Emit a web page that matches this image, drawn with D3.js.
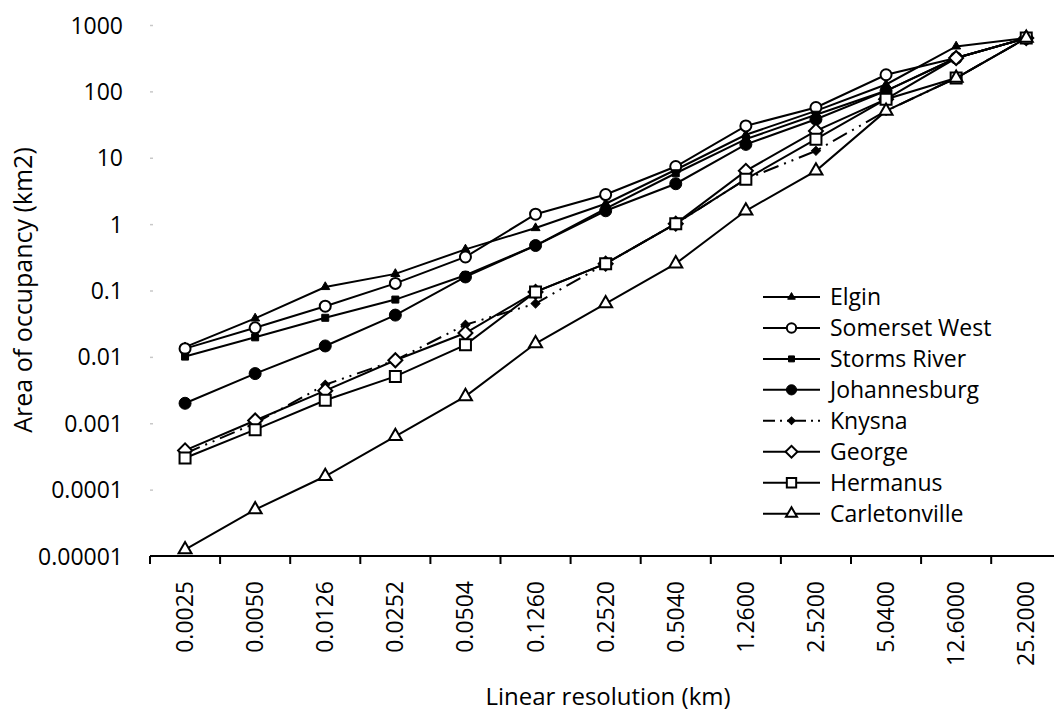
<!DOCTYPE html>
<html>
<head>
<meta charset="utf-8">
<script src="https://cdn.jsdelivr.net/npm/d3@7"></script>
<style>
  html, body { margin: 0; padding: 0; background: #fff; }
  svg { display: block; }
  text { font-family: "Open Sans", "DejaVu Sans", sans-serif; fill: #000; }
</style>
</head>
<body>
<svg id="chart" width="1054" height="727"></svg>
<script>
// Linear resolution (km) of each grid, one category per column
const categories = ["0.0025", "0.0050", "0.0126", "0.0252", "0.0504", "0.1260", "0.2520",
                    "0.5040", "1.2600", "2.5200", "5.0400", "12.6000", "25.2000"];

// Area of occupancy (km2) per city at each resolution
const elgin         = [0.014, 0.038, 0.113, 0.178, 0.416, 0.873, 2.03, 6.6, 22.2, 50.8, 127, 476, 635];
const somersetWest  = [0.0133, 0.0274, 0.058, 0.128, 0.32, 1.41, 2.79, 7.37, 30.2, 57.2, 178, 318, 635];
const stormsRiver   = [0.0101, 0.0197, 0.0388, 0.073, 0.17, 0.476, 1.71, 5.84, 19.05, 44.5, 102, 318, 635];
const johannesburg  = [0.002, 0.0056, 0.0146, 0.0426, 0.16, 0.476, 1.59, 4.06, 15.9, 38.1, 102, 318, 635];
const knysna        = [0.00035, 0.001, 0.0038, 0.0089, 0.0305, 0.0635, 0.254, 1.016, 4.76, 12.7, 50.8, 159, 635];
const george        = [0.00039, 0.0011, 0.0031, 0.0089, 0.0229, 0.0953, 0.254, 1.016, 6.35, 25.4, 76.2, 318, 635];
const hermanus      = [0.0003, 0.0008, 0.00222, 0.00508, 0.0152, 0.0953, 0.254, 1.016, 4.76, 19.05, 76.2, 159, 635];
const carletonville = [0.0000125, 0.00005, 0.000159, 0.000635, 0.00254, 0.0159, 0.0635, 0.254, 1.59, 6.35, 50.8, 159, 635];

const seriesNames = ["Elgin", "Somerset West", "Storms River", "Johannesburg",
                     "Knysna", "George", "Hermanus", "Carletonville"];

// Log axis tick values and their printed labels
const yTickValues = [1e-5, 1e-4, 1e-3, 1e-2, 1e-1, 1, 10, 100, 1000];
const yTickLabels = ["0.00001", "0.0001", "0.001", "0.01", "0.1", "1", "10", "100", "1000"];

// Marker / line style for each series
const styles = {
  "Elgin":         { shape: "triangle", size: 9,  fill: "#000", dash: null },
  "Somerset West": { shape: "circle",   size: 11, fill: "#fff", dash: null },
  "Storms River":  { shape: "square",   size: 7,  fill: "#000", dash: null },
  "Johannesburg":  { shape: "circle",   size: 12, fill: "#000", dash: null },
  "Knysna":        { shape: "diamond",  size: 9,  fill: "#000", dash: "16,6,2,6,2,6" },
  "George":        { shape: "diamond",  size: 14, fill: "#fff", dash: null },
  "Hermanus":      { shape: "square",   size: 11, fill: "#fff", dash: null },
  "Carletonville": { shape: "triangle", size: 13, fill: "#fff", dash: null }
};

const seriesValues = [elgin, somersetWest, stormsRiver, johannesburg, knysna, george, hermanus, carletonville];
const series = seriesNames.map((name, i) => ({
  name,
  style: styles[name],
  points: categories.map((c, j) => ({ cat: c, value: seriesValues[i][j] }))
}));

const svg = d3.select("#chart");
const plot = { left: 150, right: 1061.3, top: 25, bottom: 556 };

const x = d3.scaleBand().domain(categories).range([plot.left, plot.right]).paddingInner(0).paddingOuter(0);
const y = d3.scaleLog().domain([1e-5, 1000]).range([plot.bottom, plot.top]);
const cx = c => x(c) + x.bandwidth() / 2;

// Builds a marker path of a given pixel size
function markerPath(shape, size) {
  if (shape === "circle") {
    return d3.symbol(d3.symbolCircle, Math.PI * (size / 2) ** 2)();
  }
  if (shape === "square") {
    return d3.symbol(d3.symbolSquare, size * size)();
  }
  if (shape === "diamond") {
    const s = size / Math.SQRT2;
    return d3.symbol(d3.symbolSquare, s * s)();
  }
  // equilateral triangle, width = size
  return d3.symbol(d3.symbolTriangle, Math.sqrt(3) / 4 * size * size)();
}
function markerTransform(shape, px, py) {
  return shape === "diamond" ? `translate(${px},${py}) rotate(45)` : `translate(${px},${py})`;
}

// Y axis: faint tick marks and labels, no axis line
const yAxis = svg.append("g")
  .attr("transform", `translate(${plot.left},0)`)
  .call(d3.axisLeft(y).tickValues(yTickValues)
    .tickFormat((d, i) => yTickLabels[i])
    .tickSize(-3).tickPadding(27));
yAxis.select(".domain").remove();
yAxis.selectAll(".tick line").attr("stroke", "#c8c8c8").attr("stroke-width", 1.5);
yAxis.selectAll(".tick text")
  .attr("font-size", 23).attr("fill", "#000")
  .style("font-family", '"Open Sans", sans-serif')
  .attr("dy", "0.35em");

// X axis: baseline, ticks between categories, rotated labels
const xAxis = svg.append("g").attr("transform", `translate(0,${plot.bottom})`);
xAxis.append("line")
  .attr("x1", plot.left).attr("x2", plot.right)
  .attr("stroke", "#000").attr("stroke-width", 2);
const boundaries = categories.map(c => x(c)).concat([x.range()[1]]);
xAxis.selectAll("line.tk").data(boundaries).join("line")
  .attr("class", "tk")
  .attr("x1", d => d).attr("x2", d => d)
  .attr("y1", 0).attr("y2", 8)
  .attr("stroke", "#000").attr("stroke-width", 2);
xAxis.selectAll("text.lbl").data(categories).join("text")
  .attr("class", "lbl")
  .attr("transform", d => `translate(${cx(d) + 8},25) rotate(-90)`)
  .attr("text-anchor", "end")
  .attr("font-size", 23)
  .text(d => d);

// Axis titles
svg.append("text")
  .attr("transform", "translate(32,290) rotate(-90)")
  .attr("text-anchor", "middle")
  .attr("font-size", 25)
  .text("Area of occupancy (km2)");
svg.append("text")
  .attr("x", 608).attr("y", 705)
  .attr("text-anchor", "middle")
  .attr("font-size", 24)
  .text("Linear resolution (km)");

// Series lines then markers, later series on top
const line = d3.line().x(d => cx(d.cat)).y(d => y(d.value));
const gSeries = svg.append("g");
series.forEach(s => {
  const g = gSeries.append("g");
  g.append("path")
    .datum(s.points)
    .attr("d", line)
    .attr("fill", "none")
    .attr("stroke", "#000")
    .attr("stroke-width", 2)
    .attr("stroke-dasharray", s.style.dash);
  g.selectAll("path.m").data(s.points).join("path")
    .attr("class", "m")
    .attr("d", markerPath(s.style.shape, s.style.size))
    .attr("transform", d => markerTransform(s.style.shape, cx(d.cat), y(d.value)))
    .attr("fill", s.style.fill)
    .attr("stroke", "#000")
    .attr("stroke-width", s.style.fill === "#fff" ? 2 : 1);
});

// Legend
const legend = svg.append("g").attr("transform", "translate(763,297)");
const rowH = 30.95;
series.forEach((s, i) => {
  const r = legend.append("g").attr("transform", `translate(0,${i * rowH})`);
  r.append("line")
    .attr("x1", 0).attr("x2", 57).attr("y1", 0).attr("y2", 0)
    .attr("stroke", "#000").attr("stroke-width", 2)
    .attr("stroke-dasharray", s.style.dash ? "12,5,2,5,2,5" : null);
  r.append("path")
    .attr("d", markerPath(s.style.shape, s.style.size * 0.85))
    .attr("transform", markerTransform(s.style.shape, 28.5, 0))
    .attr("fill", s.style.fill)
    .attr("stroke", "#000")
    .attr("stroke-width", s.style.fill === "#fff" ? 2 : 1);
  r.append("text")
    .attr("x", 67).attr("y", 0).attr("dy", "0.35em")
    .attr("font-size", 23)
    .text(s.name);
});
</script>
</body>
</html>
